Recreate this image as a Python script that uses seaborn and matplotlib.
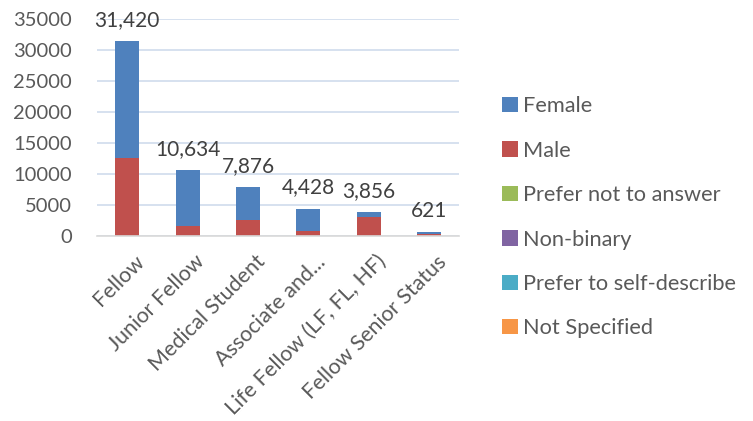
import seaborn as sns
import matplotlib.pyplot as plt
import matplotlib.transforms as mtransforms
import pandas as pd
from matplotlib.patches import Patch

# data
categories = ['Fellow', 'Junior Fellow', 'Medical Student', 'Associate and...',
              'Life Fellow (LF, FL, HF)', 'Fellow Senior Status']
totals = [31420, 10634, 7876, 4428, 3856, 621]
male = [12600, 1670, 2640, 910, 3010, 380]
prefer_not = [0, 0, 0, 0, 0, 0]
non_binary = [0, 0, 0, 0, 0, 0]
self_describe = [0, 0, 0, 0, 0, 0]
not_specified = [0, 0, 0, 0, 0, 0]
female = [t - m for t, m in zip(totals, male)]

series = ['Female', 'Male', 'Prefer not to answer', 'Non-binary',
          'Prefer to self-describe', 'Not Specified']
colors = ['#4F81BD', '#C0504D', '#9BBB59', '#8064A2', '#4BACC6', '#F79646']

# stacking order bottom -> top
stack = [('Male', male), ('Female', female), ('Prefer not to answer', prefer_not),
         ('Non-binary', non_binary), ('Prefer to self-describe', self_describe),
         ('Not Specified', not_specified)]

df = pd.DataFrame({'category': categories})
running = [0] * len(categories)
for name, vals in stack:
    running = [r + v for r, v in zip(running, vals)]
    df[name] = running

sns.set_style('white')
plt.rcParams['font.family'] = ['Lato', 'DejaVu Sans']

fig = plt.figure(figsize=(7.53, 4.21), dpi=100)
ax = fig.add_axes([0.129, 0.439, 0.481, 0.516])

color_map = dict(zip(series, colors))
# draw cumulative bars from the top series down so lower ones sit in front
for name, _ in reversed(stack):
    sns.barplot(data=df, x='category', y=name, color=color_map[name],
                width=0.4, saturation=1, ax=ax, linewidth=0)

# total labels
for i, t in enumerate(totals):
    ax.annotate(f'{t:,}', (i, t), xytext=(0, 11), textcoords='offset points',
                ha='center', va='baseline', fontsize=15, color='#404040')

ax.set_ylim(0, 35000)
ax.set_xlim(-0.5, 5.5)
ax.set_yticks(range(0, 35001, 5000))
ax.yaxis.grid(True, color='#D0DCEC', linewidth=1.2)
ax.set_axisbelow(True)
for s in ['top', 'right', 'left']:
    ax.spines[s].set_visible(False)
ax.spines['bottom'].set_color('#D9D9D9')
ax.spines['bottom'].set_linewidth(1.2)
ax.set_xlabel('')
ax.set_ylabel('')
ax.tick_params(axis='y', length=0, pad=18, labelsize=14.5, labelcolor='#595959')
ax.tick_params(axis='x', length=0, pad=11, labelsize=15.5, labelcolor='#595959')
ax.set_xticks(range(len(categories)))
ax.set_xticklabels(categories, rotation=45, ha='right', rotation_mode='anchor')
# nudge rotated labels a bit to the right, like the original
shift = mtransforms.ScaledTranslation(7 / 100, 0, fig.dpi_scale_trans)
for lbl in ax.get_xticklabels():
    lbl.set_transform(lbl.get_transform() + shift)

handles = [Patch(facecolor=c, edgecolor='none') for c in colors]
fig.legend(handles, series, loc='upper left', bbox_to_anchor=(0.641, 0.818),
           frameon=False, fontsize=15.7, labelcolor='#595959',
           handlelength=0.7, handleheight=0.7, handletextpad=0.25,
           labelspacing=1.12)

fig.savefig('out.png', dpi=100)
